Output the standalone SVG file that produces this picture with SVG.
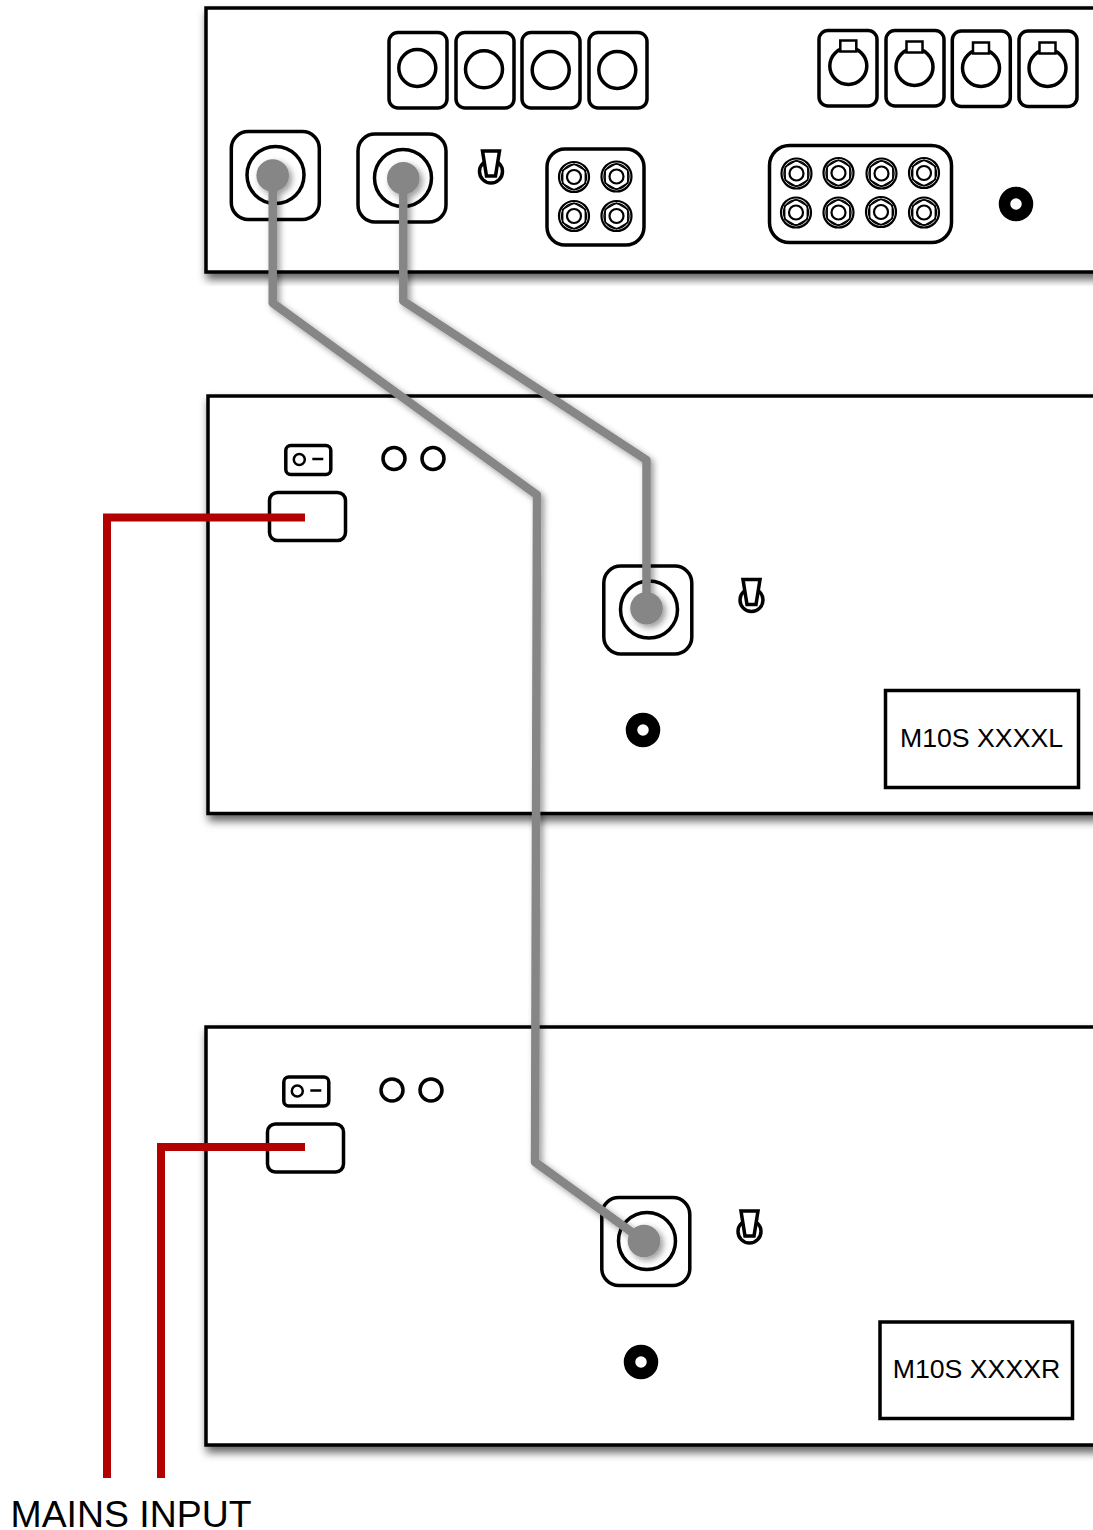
<svg xmlns="http://www.w3.org/2000/svg" xmlns:xlink="http://www.w3.org/1999/xlink" width="1093" height="1530" viewBox="0 0 1093 1530">
<style>
.p{fill:#fff;stroke:#000;stroke-width:3.5}
.o{fill:none;stroke:#000;stroke-width:3.5}
.l{fill:#fff;stroke:#000;stroke-width:3.5}
.j1{fill:none;stroke:#000;stroke-width:2.2}
.j2{fill:none;stroke:#000;stroke-width:1.4}
.tab{fill:#fff;stroke:#000;stroke-width:2.500}
.cable{fill:none;stroke:#868686;stroke-width:8.500;stroke-linejoin:round}
.dot{fill:#868686}
.red{fill:none;stroke:#b30000;stroke-width:8;stroke-linejoin:miter}
text{font-family:"Liberation Sans",Arial,sans-serif;fill:#000}
</style>
<defs>
<filter id="sh" x="-5%" y="-5%" width="110%" height="110%"><feDropShadow dx="2" dy="6" stdDeviation="4" flood-color="#000" flood-opacity="0.6"/></filter>
<filter id="csh" x="-20%" y="-20%" width="140%" height="140%"><feDropShadow dx="3" dy="3" stdDeviation="3" flood-color="#000" flood-opacity="0.4"/></filter>
<g id="jack"><circle r="15" class="j1"/><circle r="12.500" class="j2"/><path class="j2" d="M0-13 11.300-6.500V6.500L0 13-11.300 6.500V-6.500Z"/><circle r="7" class="j1"/></g>
<rect id="sockbox" x="-44" y="-44" width="88" height="88" rx="17" class="o"/>
<g id="toggle"><circle r="11.500" class="o"/><path d="M-8.500-20.500H8.500L4.500 4.500H-4.500Z" fill="#fff" stroke="#000" stroke-width="3.500"/></g>
<circle id="ground" r="11.500" fill="none" stroke="#000" stroke-width="11.500"/>
<g id="switch"><rect x="-22.500" y="-14" width="45" height="29" rx="5" class="o"/><circle cx="-9" cy="0" r="5.500" fill="none" stroke="#000" stroke-width="2.500"/><path d="M4-0.500H15" stroke="#000" stroke-width="2.500"/></g>
<rect id="xbox" x="-29" y="-37.500" width="58" height="75.500" rx="9" class="o"/>
<g id="xlrm"><circle r="18.500" class="o"/><rect x="-8" y="-25.500" width="16" height="11" class="tab"/></g>
</defs>

<g id="panel-top">
<rect class="p" x="206" y="8" width="920" height="264" filter="url(#sh)"/>
<use xlink:href="#xbox" href="#xbox" x="418" y="70"/>
<use xlink:href="#xbox" href="#xbox" x="485" y="70"/>
<use xlink:href="#xbox" href="#xbox" x="551" y="70"/>
<use xlink:href="#xbox" href="#xbox" x="618" y="70"/>
<circle class="o" cx="417.300" cy="68" r="18.500"/>
<circle class="o" cx="484" cy="69.300" r="18.500"/>
<circle class="o" cx="550.700" cy="70" r="18.500"/>
<circle class="o" cx="617.300" cy="70" r="18.500"/>
<use xlink:href="#xbox" href="#xbox" x="848" y="68"/>
<use xlink:href="#xbox" href="#xbox" x="915" y="68"/>
<use xlink:href="#xbox" href="#xbox" x="981.300" y="68.500"/>
<use xlink:href="#xbox" href="#xbox" x="1048" y="68.500"/>
<use xlink:href="#xlrm" href="#xlrm" x="848.300" y="66"/>
<use xlink:href="#xlrm" href="#xlrm" x="914.500" y="67"/>
<use xlink:href="#xlrm" href="#xlrm" x="981" y="68"/>
<use xlink:href="#xlrm" href="#xlrm" x="1047.500" y="68"/>
<use xlink:href="#sockbox" href="#sockbox" x="275.300" y="175.500"/>
<circle class="o" cx="275.500" cy="175" r="28.500"/>
<use xlink:href="#sockbox" href="#sockbox" x="402" y="178"/>
<circle class="o" cx="403" cy="178" r="28.500"/>
<use xlink:href="#toggle" href="#toggle" x="491" y="171.500"/>
<rect class="o" x="547" y="149" width="97" height="96" rx="18"/>
<use xlink:href="#jack" href="#jack" x="574" y="177"/>
<use xlink:href="#jack" href="#jack" x="616.500" y="176.500"/>
<use xlink:href="#jack" href="#jack" x="574" y="216"/>
<use xlink:href="#jack" href="#jack" x="616.500" y="216"/>
<rect class="o" x="769.500" y="145.500" width="182" height="97" rx="20"/>
<use xlink:href="#jack" href="#jack" x="796.500" y="173.500"/>
<use xlink:href="#jack" href="#jack" x="838.500" y="173"/>
<use xlink:href="#jack" href="#jack" x="881.500" y="173.500"/>
<use xlink:href="#jack" href="#jack" x="924" y="173"/>
<use xlink:href="#jack" href="#jack" x="796" y="212.500"/>
<use xlink:href="#jack" href="#jack" x="838.500" y="212.500"/>
<use xlink:href="#jack" href="#jack" x="881" y="212"/>
<use xlink:href="#jack" href="#jack" x="924" y="212.500"/>
<use xlink:href="#ground" href="#ground" x="1016" y="204"/>
</g>

<g id="panel-left">
<rect class="p" x="208" y="396" width="920" height="417.500" filter="url(#sh)"/>
<use xlink:href="#switch" href="#switch" x="308.300" y="459.500"/>
<circle class="o" cx="394" cy="458.500" r="11"/>
<circle class="o" cx="433" cy="458.500" r="11"/>
<rect class="o" x="269.500" y="492.500" width="76" height="48" rx="8"/>
<use xlink:href="#sockbox" href="#sockbox" x="647.800" y="610"/>
<circle class="o" cx="649" cy="609.500" r="28.500"/>
<use xlink:href="#toggle" href="#toggle" x="751.500" y="600"/>
<use xlink:href="#ground" href="#ground" x="643" y="730"/>
<rect class="l" x="885.500" y="690.500" width="193" height="97"/>
<text x="981.500" y="747" font-size="26.700" text-anchor="middle">M10S XXXXL</text>
</g>

<g id="panel-right">
<rect class="p" x="206" y="1027" width="920" height="418" filter="url(#sh)"/>
<use xlink:href="#switch" href="#switch" x="306.300" y="1091"/>
<circle class="o" cx="392" cy="1090" r="11"/>
<circle class="o" cx="431" cy="1090" r="11"/>
<rect class="o" x="267.500" y="1124" width="76" height="48" rx="8"/>
<use xlink:href="#sockbox" href="#sockbox" x="645.800" y="1241.500"/>
<circle class="o" cx="647" cy="1241" r="28.500"/>
<use xlink:href="#toggle" href="#toggle" x="749.500" y="1231.500"/>
<use xlink:href="#ground" href="#ground" x="641" y="1362"/>
<rect class="l" x="880" y="1322" width="192.500" height="96.500"/>
<text x="976.500" y="1377.500" font-size="26.700" text-anchor="middle">M10S XXXXR</text>
</g>

<g id="connectors">
<g filter="url(#csh)">
<path class="cable" d="M272.700 175.500V303L537 495 535 1162 644 1241"/>
<circle class="dot" cx="272.700" cy="175.500" r="16.300"/>
<circle class="dot" cx="644" cy="1241" r="16.300"/>
</g>
<g filter="url(#csh)">
<path class="cable" d="M403.300 178.300V301L646.500 460V608"/>
<circle class="dot" cx="403.300" cy="178.300" r="16.300"/>
<circle class="dot" cx="646.500" cy="608.300" r="16.300"/>
</g>
<path class="red" d="M305 517.500H107V1478"/>
<path class="red" d="M305 1147H161V1478"/>
</g>

<g id="label-mains"><text x="10.500" y="1527" font-size="37.400">MAINS INPUT</text></g>
</svg>
